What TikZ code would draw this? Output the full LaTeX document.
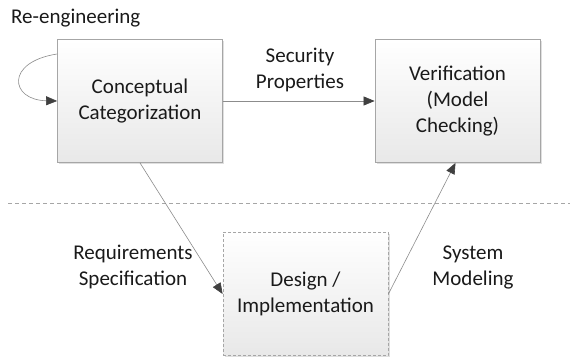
\documentclass[tikz,border=0pt]{standalone}
\usepackage{fontspec}
\setmainfont{Carlito}
\usetikzlibrary{arrows.meta,shadows}
\definecolor{edgegray}{HTML}{8C8C8C}
\definecolor{boxline}{HTML}{A6A6A6}
\definecolor{tipgray}{HTML}{404040}
\definecolor{txt}{HTML}{1A1A1A}
\tikzset{
  x=1pt, y=-1pt,
  every node/.style={font=\fontsize{21}{26}\selectfont, text=txt, align=center},
  procbox/.style={draw=boxline, line width=0.8pt, top color=white, bottom color=black!9,
    minimum width=165pt, minimum height=123pt, inner sep=0pt,
    drop shadow={shadow xshift=1.5pt, shadow yshift=-1.5pt, opacity=0.25}},
  flow/.style={draw=edgegray, line width=0.6pt,
    -{Triangle[length=11pt,width=9pt,fill=tipgray,color=tipgray]}},
  lbl/.style={inner sep=0pt}
}
\begin{document}
\begin{tikzpicture}
\useasboundingbox (0,0) rectangle (576,358);
\fill[white] (0,0) rectangle (576,358);

% separator between specification and implementation layers
\draw[boxline, line width=0.8pt, dash pattern=on 4pt off 3pt] (8,203) -- (570,203);

\node[procbox] (cc) at (140,101) {Conceptual\\Categorization};
\node[procbox] (ver) at (457.5,101) {Verification\\(Model\\Checking)};
\node[procbox, dash pattern=on 3pt off 2pt] (des) at (305.5,294) {Design /\\Implementation};

\node[lbl, anchor=west] (re) at (11,18) {Re-engineering};
\node[lbl] (sp) at (300,70) {Security\\Properties};
\node[lbl] (rs) at (133,267) {Requirements\\Specification};
\node[lbl] (sm) at (473,267) {System\\Modeling};

% self loop on the categorization step
\draw[flow] ([yshift=47pt]cc.west) .. controls (5,62) and (10,100) .. (cc.west);
\draw[flow] (cc.east) -- (ver.west);
\draw[flow] (cc.south) -- (des.west);
\draw[flow] (des.east) -- ([xshift=-2pt]ver.south);
\end{tikzpicture}
\end{document}
